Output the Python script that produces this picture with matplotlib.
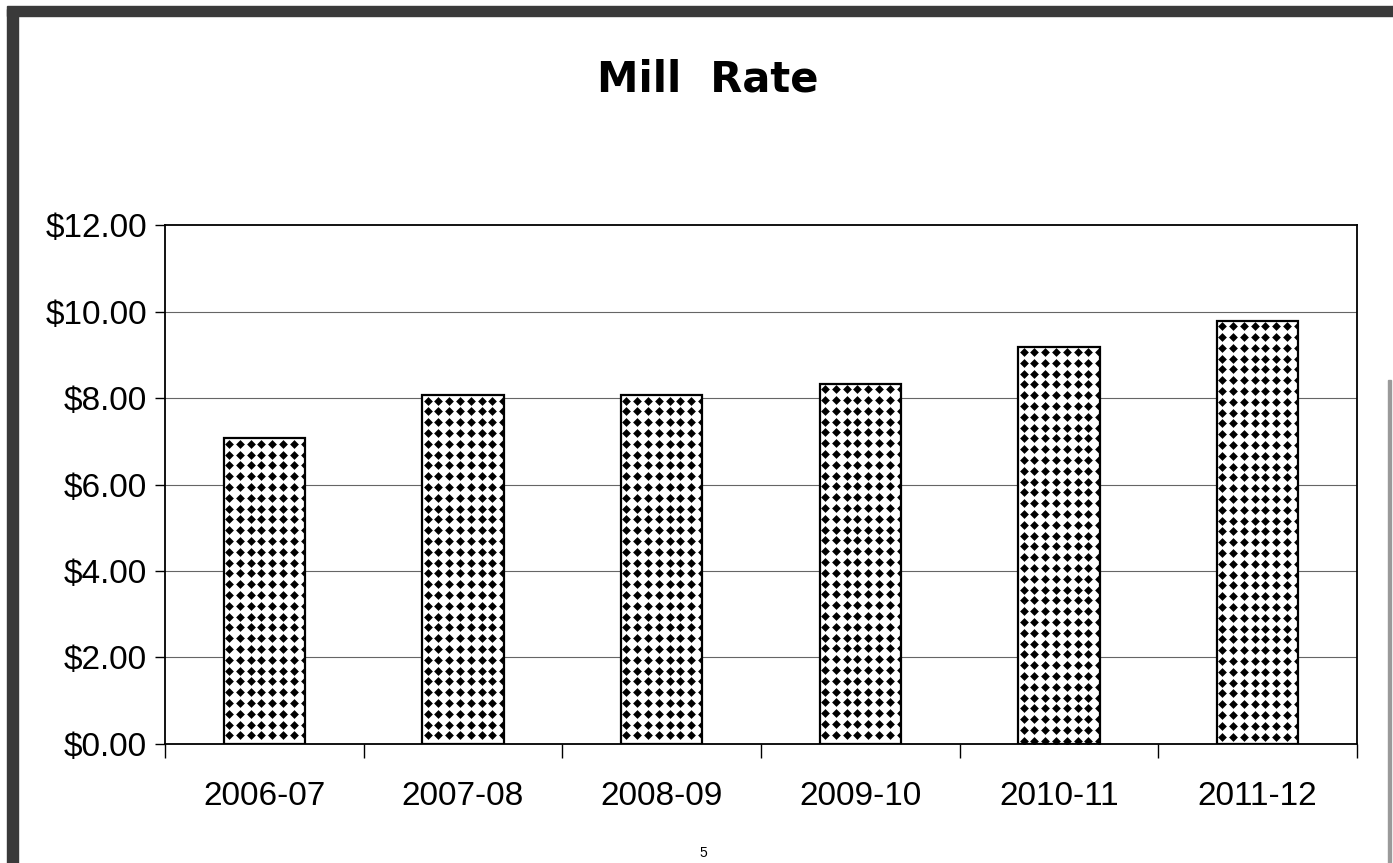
import numpy as np
import matplotlib.pyplot as plt
from matplotlib.patches import Rectangle

# Datos
years = ['2006-07', '2007-08', '2008-09', '2009-10', '2010-11', '2011-12']
rates = [7.07, 8.07, 8.07, 8.33, 9.19, 9.79]
y_ticks = [0, 2, 4, 6, 8, 10, 12]
y_labels = ['$0.00', '$2.00', '$4.00', '$6.00', '$8.00', '$10.00', '$12.00']

plt.rcParams['font.family'] = ['Liberation Sans', 'DejaVu Sans']

fig = plt.figure(figsize=(13.93, 8.63), dpi=100)
ax = fig.add_axes([0.1185, 0.138, 0.8555, 0.601])

x = np.arange(len(years))
bar_w = 0.41
bars = ax.bar(x, rates, width=bar_w, color='white', edgecolor='black',
              linewidth=1.6, zorder=3)

ax.set_xlim(-0.5, len(years) - 0.5)
ax.set_ylim(0, 12)

# patron de rombos dentro de cada barra
ax_w = 0.8555 * 1393
ax_h = 0.601 * 863
dx = 10.8 * (len(years)) / ax_w
dy = 10.8 * 12 / ax_h
for b in bars:
    xs = np.arange(b.get_x() + dx * 0.5, b.get_x() + b.get_width(), dx)
    ys = np.arange(b.get_height() - dy * 0.5, 0, -dy)
    gx, gy = np.meshgrid(xs, ys)
    sc = ax.scatter(gx.ravel(), gy.ravel(), marker='D', s=20, color='black',
                    linewidths=0, zorder=4)
    sc.set_clip_path(b)

# rejilla
for v in y_ticks[1:-1]:
    ax.axhline(v, color='#666666', linewidth=0.8, zorder=1)

for s in ax.spines.values():
    s.set_linewidth(1.3)
    s.set_color('black')

ax.set_yticks(y_ticks)
ax.set_yticklabels(y_labels, fontsize=24)
ax.tick_params(axis='y', length=7, width=1.0, pad=6)

ax.set_xticks(np.arange(-0.5, len(years), 1.0))
ax.set_xticklabels([])
ax.tick_params(axis='x', which='major', length=10, width=1.0)
ax.set_xticks(x, minor=True)
ax.set_xticklabels(years, minor=True, fontsize=24)
ax.tick_params(axis='x', which='minor', length=0, pad=27)

fig.text(0.508, 0.908, 'Mill  Rate', ha='center', va='center',
         fontsize=30, fontweight='heavy', family=['DejaVu Sans'])

# marco del escaneo
fig.patches.append(Rectangle((0.005, 0.0), 0.008, 0.99, transform=fig.transFigure,
                             color='#3a3a3a', zorder=0))
fig.patches.append(Rectangle((0.005, 0.981), 0.995, 0.012, transform=fig.transFigure,
                             color='#3a3a3a', zorder=0))
fig.patches.append(Rectangle((0.9965, 0.0), 0.002, 0.56, transform=fig.transFigure,
                             color='#9a9a9a', zorder=0))
fig.text(0.505, 0.004, '5', ha='center', va='bottom', fontsize=10)

fig.savefig('out.png', dpi=100)
